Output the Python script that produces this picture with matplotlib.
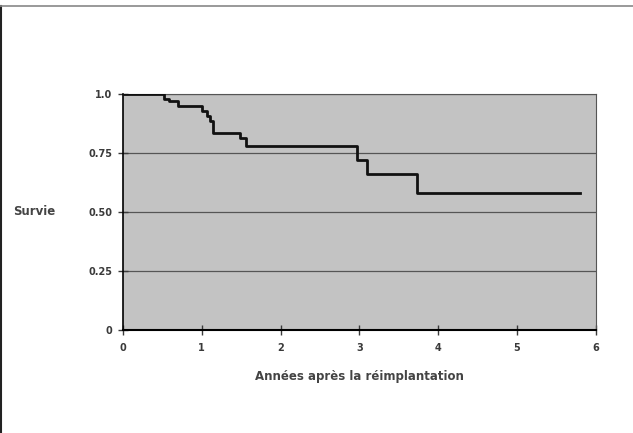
import matplotlib.pyplot as plt
from matplotlib.lines import Line2D

# survival curve steps (years, survival)
annees = [0, 0.52, 0.58, 0.70, 1.0, 1.07, 1.11, 1.15, 1.48, 1.56, 2.97, 3.10, 3.73, 5.80]
survie = [1.0, 0.98, 0.97, 0.95, 0.93, 0.91, 0.885, 0.835, 0.815, 0.78, 0.72, 0.66, 0.58, 0.58]

x_ticks = [0, 1, 2, 3, 4, 5, 6]
y_ticks = [0, 0.25, 0.5, 0.75, 1.0]
y_labels = ["0", "0.25", "0.50", "0.75", "1.0"]

fig = plt.figure(figsize=(6.33, 4.33), dpi=100)
ax = fig.add_axes([0.194, 0.238, 0.7475, 0.544])
ax.set_facecolor("#c3c3c3")

# grid
for y in y_ticks[1:]:
    ax.axhline(y, color="#555555", lw=0.9, zorder=1)

ax.step(annees, survie, where="post", color="#111111", lw=2, zorder=3)

ax.set_xlim(0, 6)
ax.set_ylim(0, 1.0)
ax.set_xticks(x_ticks)
ax.set_xticklabels([str(v) for v in x_ticks], fontweight="bold")
ax.set_yticks(y_ticks)
ax.set_yticklabels(y_labels, fontweight="bold")
ax.tick_params(direction="inout", length=7, width=1, labelsize=7,
               colors="#3a3a3a")
ax.tick_params(axis="x", pad=6)
ax.tick_params(axis="y", pad=4)

ax.spines["left"].set_linewidth(1.2)
ax.spines["bottom"].set_linewidth(1.5)
ax.spines["top"].set_color("#555555")
ax.spines["right"].set_color("#555555")

ax.set_xlabel("Années après la réimplantation", fontsize=8.5, fontweight="bold",
              color="#444444", labelpad=12)
fig.text(0.021, 0.511, "Survie", fontsize=8.5, fontweight="bold",
         color="#444444", va="center", ha="left")

# frame of the figure (left and top edges)
fig.add_artist(Line2D([0.002, 0.002], [0, 0.987], color="#222222", lw=1.5))
fig.add_artist(Line2D([0, 1], [0.987, 0.987], color="#888888", lw=1.2))

fig.savefig("out.png", dpi=100)
